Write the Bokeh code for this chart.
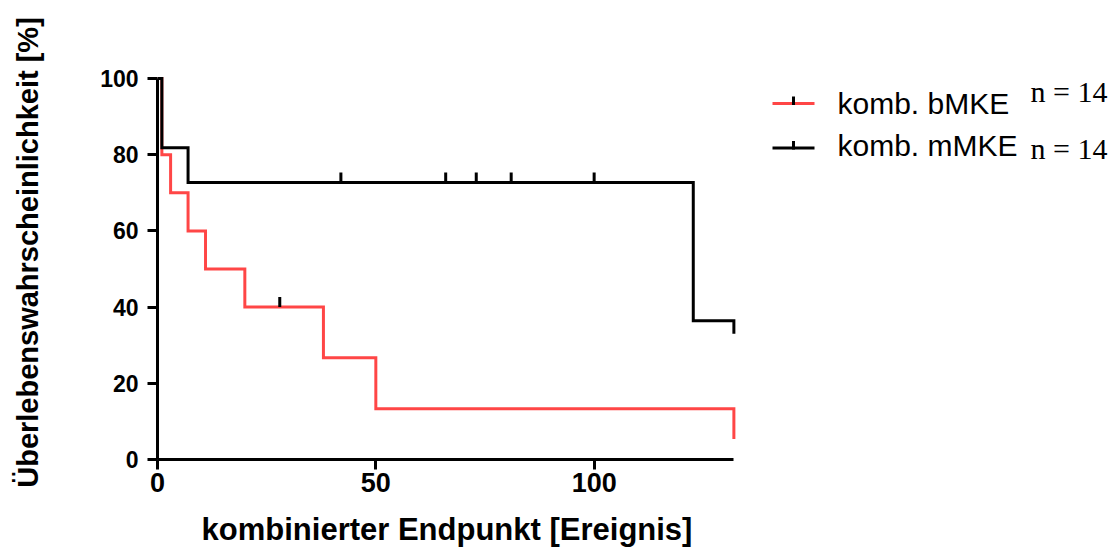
import numpy as np
from bokeh.plotting import figure
from bokeh.layouts import row
from bokeh.models import Range1d, FixedTicker
from bokeh.core.properties import value
from bokeh.embed import file_html
from bokeh.resources import INLINE

# Kaplan-Meier estimates (time in events, survival in %)
bmke_time = [0, 1, 3, 7, 11, 20, 38, 50, 132]
bmke_surv = [100, 80, 70, 60, 50, 40, 26.7, 13.3, 5.4]
bmke_censored = [28]

mmke_time = [0, 1, 7, 122.7, 132]
mmke_surv = [100, 81.8, 72.7, 36.4, 33.0]
mmke_censored = [42, 66, 73, 81, 100]

group_names = ["komb. bMKE", "komb. mMKE"]
group_n = [14, 14]

x_ticks = [0, 50, 100]
y_ticks = [0, 20, 40, 60, 80, 100]
x_title = "kombinierter Endpunkt [Ereignis]"
y_title = "Überlebenswahrscheinlichkeit [%]"

RED = "#ff4646"
SANS = "Liberation Sans"
SERIF = "Liberation Serif"


def surv_at(times, surv, t):
    idx = np.searchsorted(np.asarray(times), np.asarray(t), side="right") - 1
    return np.asarray(surv)[idx]


# ---- survival plot ----
p = figure(
    frame_width=579, frame_height=414,
    min_border_left=157, min_border_right=0, min_border_top=45, min_border_bottom=89,
    x_range=Range1d(0, 132.6), y_range=Range1d(0, 108.66),
    output_backend="svg", toolbar_location=None,
)
p.outline_line_color = None
p.grid.visible = False
p.background_fill_color = "white"
p.border_fill_color = "white"

for ax, ticks, bounds, size, standoff in (
    (p.xaxis[0], x_ticks, (0, 132), "27px", 3),
    (p.yaxis[0], y_ticks, (0, 100), "23px", 9),
):
    ax.ticker = FixedTicker(ticks=ticks)
    ax.bounds = bounds
    ax.axis_line_width = 3
    ax.major_tick_line_width = 3
    ax.major_tick_out = 10
    ax.major_tick_in = 0
    ax.minor_tick_line_color = None
    ax.major_label_text_font = SANS
    ax.major_label_text_font_style = "bold"
    ax.major_label_text_font_size = size
    ax.major_label_text_color = "black"
    ax.major_label_standoff = standoff
    ax.axis_label_text_font = SANS
    ax.axis_label_text_font_style = "bold"
    ax.axis_label_text_color = "black"

p.xaxis.axis_label = x_title
p.xaxis.axis_label_text_font_size = "31px"
p.xaxis.axis_label_standoff = 17
p.yaxis.axis_label = y_title
p.yaxis.axis_label_text_font_size = "29px"
p.yaxis.axis_label_standoff = 53

# survival curves
p.step(bmke_time, bmke_surv, mode="after", line_color=RED, line_width=3, line_join="miter")
p.step(mmke_time, mmke_surv, mode="after", line_color="black", line_width=3, line_join="miter")

# censoring marks
for times, surv, cens in ((bmke_time, bmke_surv, bmke_censored),
                          (mmke_time, mmke_surv, mmke_censored)):
    p.ray(x=cens, y=surv_at(times, surv, cens), length=10, angle=np.pi / 2,
          length_units="screen", line_color="black", line_width=3)

# ---- legend panel (page pixel coordinates, y downwards; frame aligned with plot frame) ----
leg = figure(
    frame_width=378, frame_height=414,
    min_border_left=0, min_border_right=0, min_border_top=45, min_border_bottom=89,
    x_range=Range1d(0, 378), y_range=Range1d(459, 45),
    output_backend="svg", toolbar_location=None,
)
leg.axis.visible = False
leg.grid.visible = False
leg.outline_line_color = None
leg.background_fill_color = "white"
leg.border_fill_color = "white"

line_x0, line_x1, tick_x = 36, 78, 57
row_y = [103, 147.5]
name_x, name_y = 101, [103.0, 144.9]
n_x, n_y = 294, [91.2, 148.0]
for i, (color, name, n) in enumerate(zip([RED, "black"], group_names, group_n)):
    leg.segment(x0=[line_x0], y0=[row_y[i]], x1=[line_x1], y1=[row_y[i]],
                line_color=color, line_width=3)
    leg.segment(x0=[tick_x], y0=[row_y[i] + 1.5], x1=[tick_x], y1=[row_y[i] - 7],
                line_color="black", line_width=3)
    leg.text(x=[name_x], y=[name_y[i]], text=[name], text_font=value(SANS),
             text_font_size="30px", text_baseline="alphabetic", text_align="left",
             text_color="black")
    leg.text(x=[n_x], y=[n_y[i]], text=[f"n = {n}"], text_font=value(SERIF),
             text_font_size="30px", text_baseline="alphabetic", text_align="left",
             text_color="black")

layout = row(p, leg, spacing=0)
open("out.html", "w").write(file_html(layout, INLINE))
